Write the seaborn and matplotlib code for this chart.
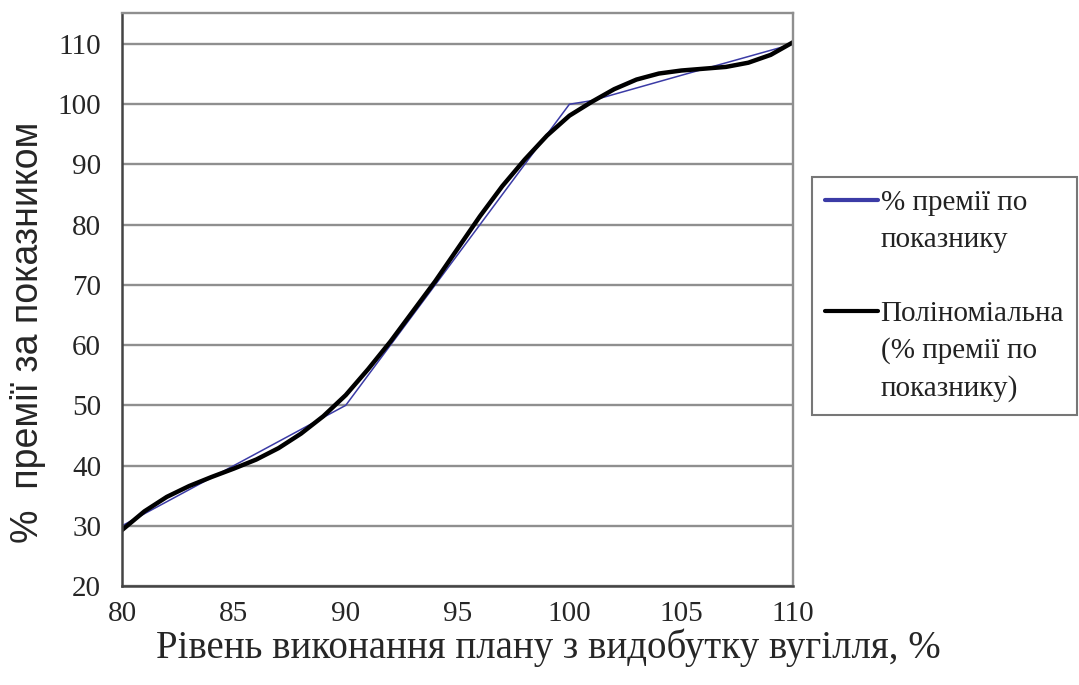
import numpy as np
import pandas as pd
import matplotlib
matplotlib.use('Agg')
import matplotlib.pyplot as plt
from matplotlib.lines import Line2D
import seaborn as sns

# фактичний % премії за показником (ламана)
plan_pts = [80, 85, 90, 95, 100, 101, 105, 110]
bonus_pts = [30, 40, 50, 75, 100, 100.6, 104.8, 110]

# поліноміальна лінія тренду
trend_x = list(range(80, 111))
trend_y = [29.3, 32.4, 34.8, 36.6, 38.1, 39.5, 41.0, 42.9, 45.3, 48.2,
           51.7, 56.0, 60.6, 65.6, 70.6, 76.0, 81.4, 86.4, 90.8, 94.8,
           98.1, 100.4, 102.5, 104.1, 105.1, 105.6, 105.9, 106.2, 106.9, 108.2,
           110.3]

x_ticks = [80, 85, 90, 95, 100, 105, 110]
y_ticks = [20, 30, 40, 50, 60, 70, 80, 90, 100, 110]

lbl_fact = ['% премії по', 'показнику']
lbl_trend = ['Поліноміальна', '(% премії по', 'показнику)']

df_fact = pd.DataFrame({'x': plan_pts, 'y': bonus_pts})
df_trend = pd.DataFrame({'x': trend_x, 'y': trend_y})

sns.set_style('white')
plt.rcParams['font.family'] = ['Liberation Serif', 'DejaVu Serif']

fig = plt.figure(figsize=(10.79, 6.85), dpi=100)
ax = fig.add_axes([0.1131, 0.1445, 0.6219, 0.8365])

blue = '#3b3ba6'
sns.lineplot(data=df_fact, x='x', y='y', ax=ax, color=blue, linewidth=1.1)
sns.lineplot(data=df_trend, x='x', y='y', ax=ax, color='black', linewidth=3.2,
             solid_joinstyle='round', solid_capstyle='round')

ax.set_xlim(80, 110)
ax.set_ylim(20, 115.15)
ax.set_xticks(x_ticks)
ax.set_yticks(y_ticks)
ax.tick_params(axis='both', direction='out', length=8, width=1.2, color='#555555',
               labelsize=21, pad=3)
ax.tick_params(axis='y', pad=7)

# горизонтальна сітка
ax.grid(axis='y', color='#8f8f8f', linewidth=1.7)
ax.grid(axis='x', visible=False)
ax.set_axisbelow(True)

for side in ['top', 'right']:
    ax.spines[side].set_color('#8f8f8f')
    ax.spines[side].set_linewidth(1.7)
for side in ['left', 'bottom']:
    ax.spines[side].set_color('#444444')
    ax.spines[side].set_linewidth(1.8)

ax.set_xlabel('Рівень виконання плану з видобутку вугілля, %', fontsize=28)
ax.xaxis.set_label_coords(0.635, -0.108)
ax.xaxis.label.set_va('center')
ax.set_ylabel('%  премії за показником', fontsize=27,
              family=['Liberation Sans', 'DejaVu Sans'])
ax.yaxis.set_label_coords(-0.14, 0.443)
ax.yaxis.label.set_va('center')

# легенда: маркер лінії навпроти першого рядка підпису
empty = Line2D([], [], color='none')
handles = [Line2D([], [], color=blue, linewidth=3), empty, empty,
           Line2D([], [], color='black', linewidth=3), empty, empty]
labels = [lbl_fact[0], lbl_fact[1], ' ', lbl_trend[0], lbl_trend[1], lbl_trend[2]]
leg = ax.legend(handles, labels, loc='upper left', bbox_to_anchor=(0.7526, 0.742),
                bbox_transform=fig.transFigure, fontsize=21, frameon=True,
                fancybox=False, edgecolor='#555555', borderpad=0.45,
                handlelength=1.8, handletextpad=0.1, labelspacing=0.36,
                borderaxespad=0)
leg.get_frame().set_linewidth(1.5)
for t in leg.get_texts():
    t.set_color('#222222')

fig.savefig('out.png', dpi=100)
